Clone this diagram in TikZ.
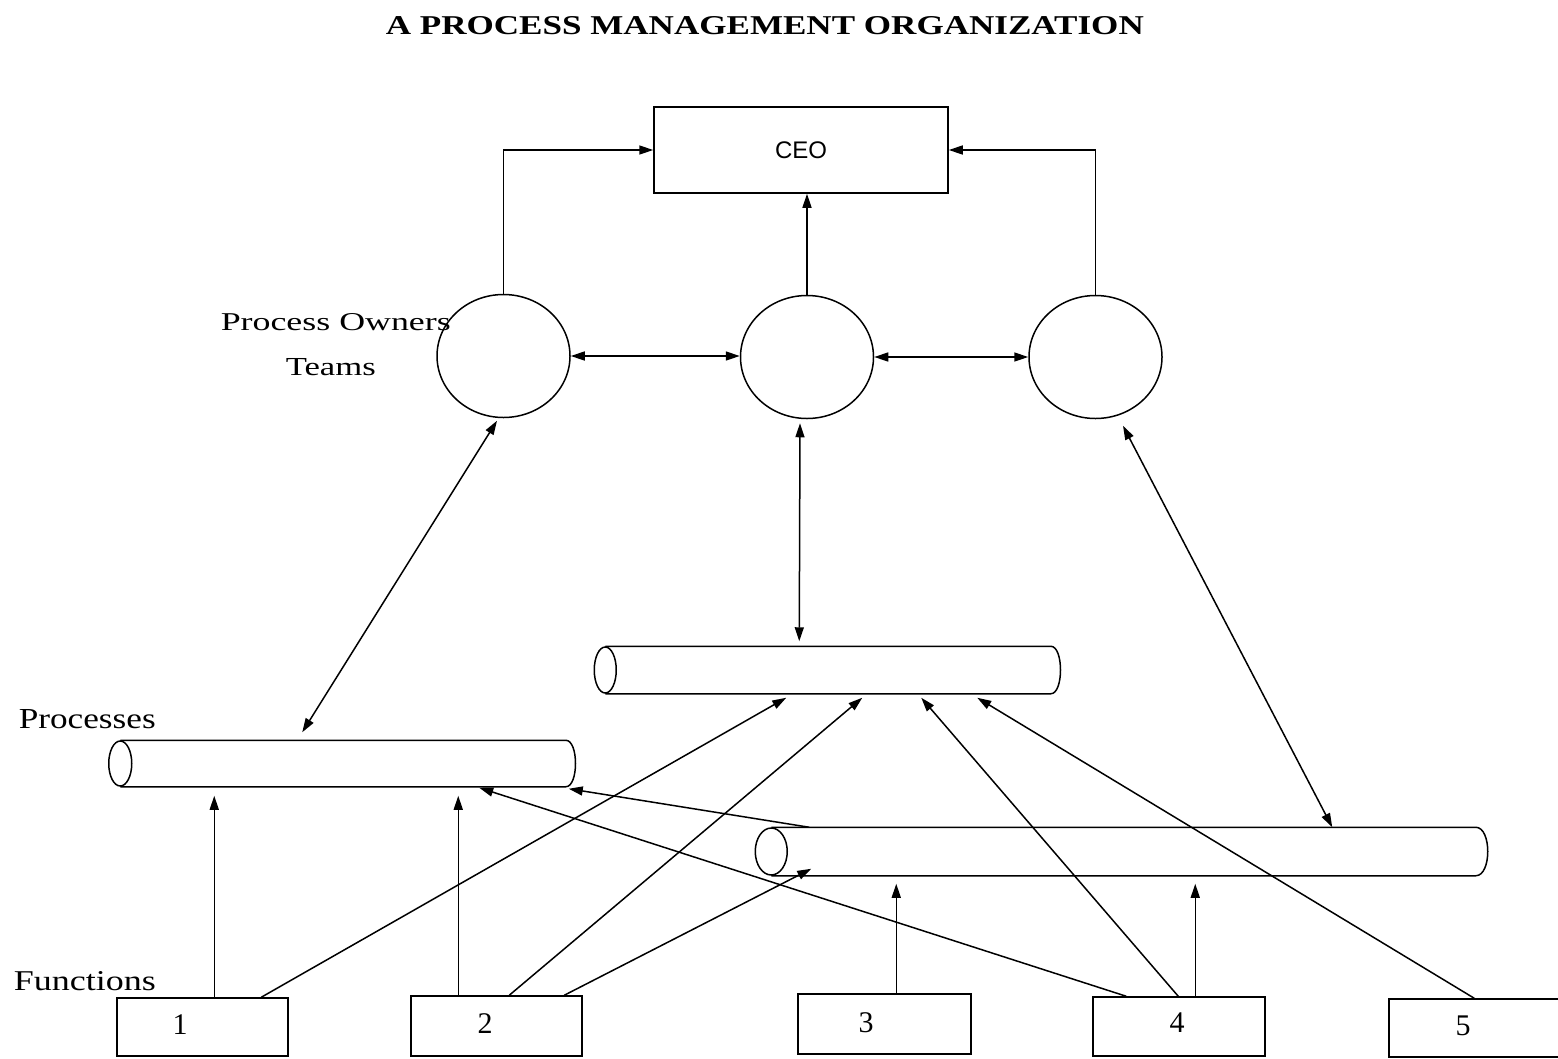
\documentclass[tikz,border=0pt]{standalone}
\usepackage{fontspec}
\setmainfont{Liberation Serif}
\setsansfont{Liberation Sans}
\usetikzlibrary{arrows.meta,shapes.geometric,calc}
\begin{document}
\begin{tikzpicture}[x=1pt,y=-1pt,
  line width=1.5pt,
  arr/.style={-{Triangle[length=14pt,width=9pt]}},
  darr/.style={{Triangle[length=14pt,width=9pt]}-{Triangle[length=14pt,width=9pt]}},
  fbox/.style={draw, rectangle, inner sep=0pt},
  owner/.style={draw, ellipse, minimum width=133pt, minimum height=123pt, inner sep=0pt},
  slot/.style={inner sep=0pt, rectangle},
  lbl/.style={inner sep=0pt, anchor=base west},
  digit/.style={inner sep=0pt, font=\fontsize{30pt}{30pt}\selectfont},
]
\useasboundingbox (0,0) rectangle (1558,1058);

% title
\node[lbl] (title) at (385,34) {\resizebox{758pt}{18pt}{\textbf{A PROCESS MANAGEMENT ORGANIZATION}}};

% CEO
\node[fbox, minimum width=294pt, minimum height=86pt] (ceo) at (801,150) {\fontsize{24pt}{24pt}\sffamily CEO};

% process owner teams
\node[owner] (c1) at (503.5,356) {};
\node[owner] (c2) at (807,357) {};
\node[owner] (c3) at (1095.5,357) {};

% processes (cylinders)
\node[slot, minimum width=444pt, minimum height=45pt] (p1) at (343,763.5) {};
\node[slot, minimum width=444pt, minimum height=46pt] (p2) at (828,670) {};
\node[slot, minimum width=703pt, minimum height=47pt] (p3) at (1123.5,851.5) {};

\draw (p1.north west) -- (p1.north east) .. controls +(13,0) and +(13,0) .. (p1.south east) -- (p1.south west);
\draw (p1.west) ellipse [x radius=11.5, y radius=22.5];
\draw (p2.north west) -- (p2.north east) .. controls +(13,0) and +(13,0) .. (p2.south east) -- (p2.south west);
\draw (p2.west) ellipse [x radius=11, y radius=23];
\draw (p3.north west) -- (p3.north east) .. controls +(16,0) and +(16,0) .. (p3.south east) -- (p3.south west);
\draw (p3.west) ellipse [x radius=16, y radius=23.5];

% functions
\node[fbox, minimum width=171pt, minimum height=58pt] (f1) at (202.5,1027) {};
\node[fbox, minimum width=171pt, minimum height=60pt] (f2) at (496.5,1026) {};
\node[fbox, minimum width=173pt, minimum height=60pt] (f3) at (884.5,1024) {};
\node[fbox, minimum width=172pt, minimum height=59pt] (f4) at (1179,1026.5) {};
\node[fbox, minimum width=172pt, minimum height=58pt] (f5) at (1475,1028) {};
\node[digit] (n1) at (180,1025) {1};
\node[digit] (n2) at (485,1024) {2};
\node[digit] (n3) at (866,1023) {3};
\node[digit] (n4) at (1177,1023) {4};
\node[digit] (n5) at (1463,1026) {5};

% labels
\node[lbl] (lpo) at (220,330) {\resizebox{230pt}{17pt}{Process Owners}};
\node[lbl] (lteams) at (285,375) {\resizebox{90pt}{17pt}{Teams}};
\node[lbl] (lproc) at (18,728) {\resizebox{137pt}{19pt}{Processes}};
\node[lbl] (lfunc) at (13,990) {\resizebox{142pt}{19pt}{Functions}};

% owners to CEO
\draw[arr] (c1.north) |- (ceo.west);
\draw[arr] (c3.north) |- (ceo.east);
\draw[arr] (c2.north) -- (c2.north |- ceo.south);
\draw[darr] (c1.east) -- (c1.east -| c2.west);
\draw[darr] (c2.east) -- (c2.east -| c3.west);

% owners to processes
\draw[darr] ($(c1.south)+(-6.5,2.5)$) -- ($(p1.north west)+(182,-8)$);
\draw[darr] ($(c2.south)+(-7,4)$) -- ($(p2.north west)+(194,-5)$);
\draw[darr] ($(c3.south)+(27.5,6.5)$) -- ($(p3.north west)+(561,0)$);

% functions to processes
\draw[arr] ($(f1.north west)+(98,0)$) -- ($(p1.south west)+(94,9)$);
\draw[arr] ($(f2.north west)+(48,0)$) -- ($(p1.south west)+(338,9)$);
\draw[arr] ($(f1.north west)+(145,0)$) -- ($(p2.south west)+(181,4)$);
\draw[arr] ($(f2.north west)+(99,0)$) -- ($(p2.south west)+(257,4)$);
\draw[arr] ($(f2.north west)+(154,0)$) -- ($(p3.south west)+(40,-7)$);
\draw[arr] ($(f3.north west)+(99,0)$) -- ($(p3.south west)+(125,8)$);
\draw[arr] ($(f4.north west)+(34,0)$) -- ($(p1.south west)+(359,1)$);
\draw[arr] ($(f4.north west)+(86,0)$) -- ($(p2.south west)+(316,4)$);
\draw[arr] ($(f4.north west)+(103,0)$) -- ($(p3.south west)+(424,8)$);
\draw[arr] ($(f5.north west)+(86,0)$) -- ($(p2.south west)+(372,4)$);
\draw[arr] ($(p3.north west)+(38,0)$) -- ($(p1.south east)+(3,2)$);
\end{tikzpicture}
\end{document}
